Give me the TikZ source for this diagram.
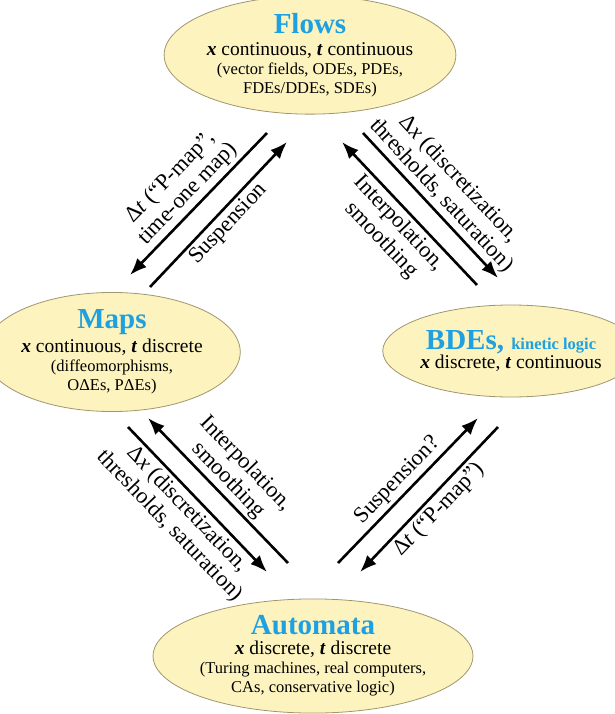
\documentclass[tikz,border=0pt]{standalone}
\usepackage{fontspec}
\setmainfont{Liberation Serif}
\usetikzlibrary{shapes.geometric,arrows.meta}
\definecolor{bubble}{RGB}{252,243,190}
\definecolor{rim}{RGB}{160,150,110}
\definecolor{titleblue}{RGB}{30,160,225}
\tikzset{
	regime/.style={ellipse,draw=rim,fill=bubble,line width=0.8pt,inner sep=0pt,align=center,
		font=\fontsize{16.5}{19}\selectfont},
	maparrow/.style={line width=2.6pt,-{Latex[length=17pt,width=13pt]}},
	arrowtext/.style={sloped,align=center,inner sep=3pt,font=\fontsize{22.5}{24}\selectfont}
}
\newcommand{\regtitle}[1]{{\fontsize{29}{30}\selectfont\bfseries\color{titleblue}#1}}
\newcommand{\regline}[1]{{\fontsize{19.5}{24}\selectfont #1}}
\newcommand{\bx}{\textbf{\textit{x}}}
\newcommand{\bt}{\textbf{\textit{t}}}
\begin{document}
\begin{tikzpicture}[x=1pt,y=-1pt]
	\useasboundingbox (0,0) rectangle (614,714);
	% the four regimes
	\node[regime,minimum width=226pt,minimum height=106pt] (flows) at (310,55)
		{\regtitle{Flows}\\[3pt] \regline{\bx{} continuous, \bt{} continuous}\\
		(vector fields, ODEs, PDEs,\\ FDEs/DDEs, SDEs)};
	\node[regime,minimum width=212pt,minimum height=94pt] (maps) at (112,352)
		{\regtitle{Maps}\\[3pt] \regline{\bx{} continuous, \bt{} discrete}\\
		(diffeomorphisms,\\ OΔEs, PΔEs)};
	\node[regime,minimum width=206pt,minimum height=92pt] (bdes) at (511,351)
		{\regtitle{BDEs, {\fontsize{16.5}{18}\selectfont kinetic logic}}\\ \regline{\bx{} discrete, \bt{} continuous}};
	\node[regime,minimum width=240pt,minimum height=114pt] (automata) at (313,656)
		{\regtitle{Automata}\\[1pt] \regline{\bx{} discrete, \bt{} discrete}\\
		(Turing machines, real computers,\\ CAs, conservative logic)};
	% arrow ends
	\coordinate (fm0) at (267,133); \coordinate (fm1) at (130,275);
	\coordinate (mf0) at (150,287); \coordinate (mf1) at (287,142);
	\coordinate (fb0) at (363,133); \coordinate (fb1) at (498,278);
	\coordinate (bf0) at (477,285); \coordinate (bf1) at (342,142);
	\coordinate (ma0) at (128,427); \coordinate (ma1) at (267,572);
	\coordinate (am0) at (288,563); \coordinate (am1) at (148,418);
	\coordinate (ab0) at (338,563); \coordinate (ab1) at (478,418);
	\coordinate (ba0) at (498,427); \coordinate (ba1) at (360,572);
	% flows <-> maps
	\draw[maparrow] (fm0) -- node[arrowtext,above] {Δ\textit{t} (“P-map”,\\ time-one map)} (fm1);
	\draw[maparrow] (mf0) -- node[arrowtext,below] {Suspension} (mf1);
	% flows <-> bdes
	\draw[maparrow] (fb0) -- node[arrowtext,above] {Δ\textit{x} (discretization,\\ thresholds, saturation)} (fb1);
	\draw[maparrow] (bf0) -- node[arrowtext,below] {Interpolation,\\ smoothing} (bf1);
	% maps <-> automata
	\draw[maparrow] (ma0) -- node[arrowtext,below] {Δ\textit{x} (discretization,\\ thresholds, saturation)} (ma1);
	\draw[maparrow] (am0) -- node[arrowtext,above] {Interpolation,\\ smoothing} (am1);
	% automata <-> bdes
	\draw[maparrow] (ab0) -- node[arrowtext,above] {Suspension?} (ab1);
	\draw[maparrow] (ba0) -- node[arrowtext,below] {Δ\textit{t} (“P-map”)} (ba1);
\end{tikzpicture}
\end{document}
